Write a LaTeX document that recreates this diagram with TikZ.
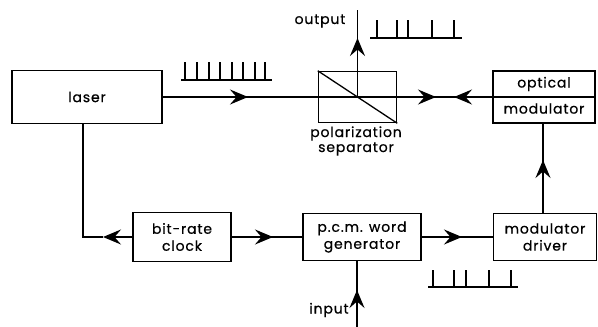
\documentclass[tikz,border=0pt]{standalone}
\usepackage{fontspec}
\setmainfont{Poppins}[LetterSpace=6,FakeBold=0.6]
\usetikzlibrary{arrows.meta,calc}
\tikzset{
  blk/.style={draw, line width=1.5pt, inner sep=0pt, align=center, font=\fontsize{14}{17}\selectfont},
  conn/.style={line width=1.9pt},
  arr/.style={line width=1.9pt, -{Stealth[length=18pt,width=15pt,inset=6.5pt]}},
  pulse/.style={line width=1.1pt},
  lbl/.style={font=\fontsize{14}{15}\selectfont, inner sep=0pt, align=center}
}
\begin{document}
\begin{tikzpicture}[x=1pt,y=-1pt]
\useasboundingbox (0,0) rectangle (598,327);
% blocks
\node[blk, minimum width=150pt, minimum height=53pt] (laser) at (87,97) {laser};
\node[blk, minimum width=78pt, minimum height=51pt] (sep) at (357.5,97) {};
\node[draw, line width=1.5pt, minimum width=102pt, minimum height=52pt, inner sep=0pt] (optmod) at (544,97) {};
\node[lbl] (optT) at (544,84) {optical};
\node[lbl] (optB) at (544,108.5) {modulator};
\node[blk, minimum width=98pt, minimum height=49pt] (clock) at (182,237) {bit-rate\\clock};
\node[blk, minimum width=118pt, minimum height=47pt] (pcm) at (362,237) {p.c.m. word\\generator};
\node[blk, minimum width=103pt, minimum height=47pt] (driver) at (545,237) {modulator\\driver};
\node[lbl] (seplbl) at (356,141) {polarization\\separator};
\node[lbl] (outlbl) at (320,21) {output};
\node[lbl] (inlbl) at (329,310) {input};
% internals
\draw[line width=1.3pt] (optmod.west) -- (optmod.east);
\draw[line width=1.3pt] (sep.north west) -- (sep.south east);
% coordinates
\coordinate (out) at (357.5,10);
\coordinate (corner) at (83,237);
\coordinate (in) at (357,327);
\coordinate (t1) at (248,97);
\coordinate (t2) at (436,97);
\coordinate (t3) at (454,97);
\coordinate (t4) at (357.5,38);
\coordinate (t5) at (103,237);
\coordinate (t6) at (273,237);
\coordinate (t7) at (462,237);
\coordinate (t8) at (543,160);
\coordinate (t9) at (357,290);
% connectors
\draw[conn] (laser.east) -- (optmod.west);
\draw[arr] (laser.east) -- (t1);
\draw[arr] (sep.east) -- (t2);
\draw[arr] (optmod.west) -- (t3);
\draw[conn] (sep.center) -- (out);
\draw[arr] (sep.center) -- (t4);
\draw[arr] (clock.west) -- (t5);
\draw[conn] (t5) -- (corner) -- (corner |- laser.south);
\draw[conn] (clock.east) -- (pcm.west);
\draw[arr] (clock.east) -- (t6);
\draw[conn] (pcm.east) -- (driver.west);
\draw[arr] (pcm.east) -- (t7);
\draw[conn] (driver.north -| t8) -- (optmod.south -| t8);
\draw[arr] (driver.north -| t8) -- (t8);
\draw[conn] (in) -- (in |- pcm.south);
\draw[arr] (in) -- (t9);
% pulse trains
\draw[pulse] (181,80) -- (272,80);
\foreach \x in {185,197,209,220,232,243,255,265} \draw[pulse] (\x,80) -- (\x,62);
\draw[pulse] (370,38) -- (462,38);
\foreach \x in {377,397,408,432,454} \draw[pulse] (\x,38) -- (\x,20);
\draw[pulse] (428,287) -- (518,287);
\foreach \x in {433,454,466,489,511} \draw[pulse] (\x,287) -- (\x,270);
\end{tikzpicture}
\end{document}
